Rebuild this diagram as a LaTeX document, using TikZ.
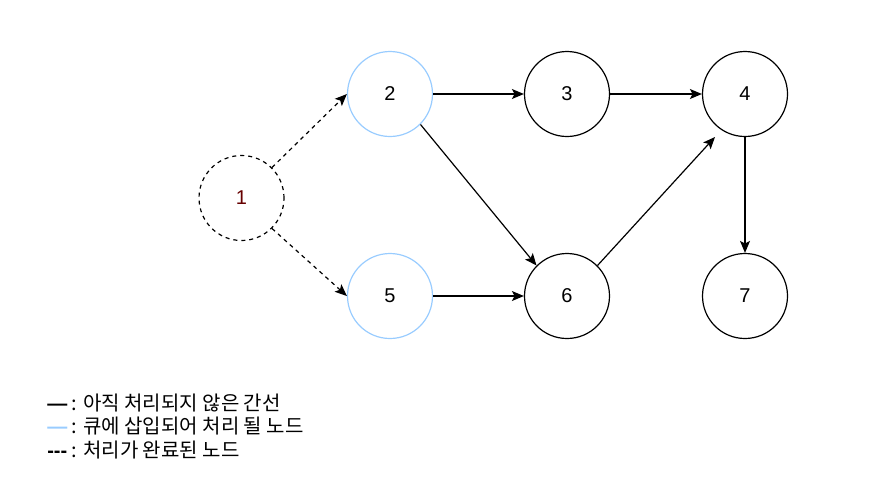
\documentclass[tikz,border=0pt]{standalone}
\usepackage{fontspec}
\setmainfont{Liberation Sans}
\newfontfamily\kr{Noto Sans CJK KR}
\usetikzlibrary{arrows.meta}
\definecolor{queueblue}{HTML}{99CCFF}
\definecolor{donered}{HTML}{660000}
\tikzset{
  vertex/.style={circle, draw, line width=0.9pt, minimum size=63.75pt, inner sep=0pt, font=\fontsize{15}{18}\selectfont},
  queued/.style={vertex, draw=queueblue},
  done/.style={vertex, dashed, text=donered},
  edge/.style={line width=0.9pt, -{Stealth[length=9pt, width=7.5pt, inset=2pt]}}
}

\begin{document}
\begin{tikzpicture}[x=0.75pt, y=-0.75pt]
  \useasboundingbox (0, 0) rectangle (880, 497);
  \node[done] (n1) at (241.5, 198) {1};
  \node[queued] (n2) at (390, 94) {2};
  \node[vertex] (n3) at (567, 94) {3};
  \node[vertex] (n4) at (745, 94) {4};
  \node[queued] (n5) at (390, 296) {5};
  \node[vertex] (n6) at (567, 296) {6};
  \node[vertex] (n7) at (745, 296) {7};
  \coordinate (end64) at (715, 137);
  \draw[edge, dashed] (n1.north east) -- (n2.west);
  \draw[edge, dashed] (n1.south east) -- (n5.west);
  \draw[edge] (n2.east) -- (n3.west);
  \draw[edge] (n3.east) -- (n4.west);
  \draw[edge] (n2.south east) -- (n6.north west);
  \draw[edge] (n5.east) -- (n6.west);
  \draw[edge] (n6.north east) -- (end64);
  \draw[edge] (n4.south) -- (n7.north);
  \node[anchor=west, align=left, inner sep=0pt, font=\kr\fontsize{15}{17.5}\selectfont] (legend) at (47, 426.5)
    {{\normalfont\bfseries —} : 아직 처리되지 않은 간선\\
     {\normalfont\bfseries\color{queueblue}—} : 큐에 삽입되어 처리 될 노드\\
     {\normalfont\bfseries -{}-{}-} : 처리가 완료된 노드};
\end{tikzpicture}
\end{document}
